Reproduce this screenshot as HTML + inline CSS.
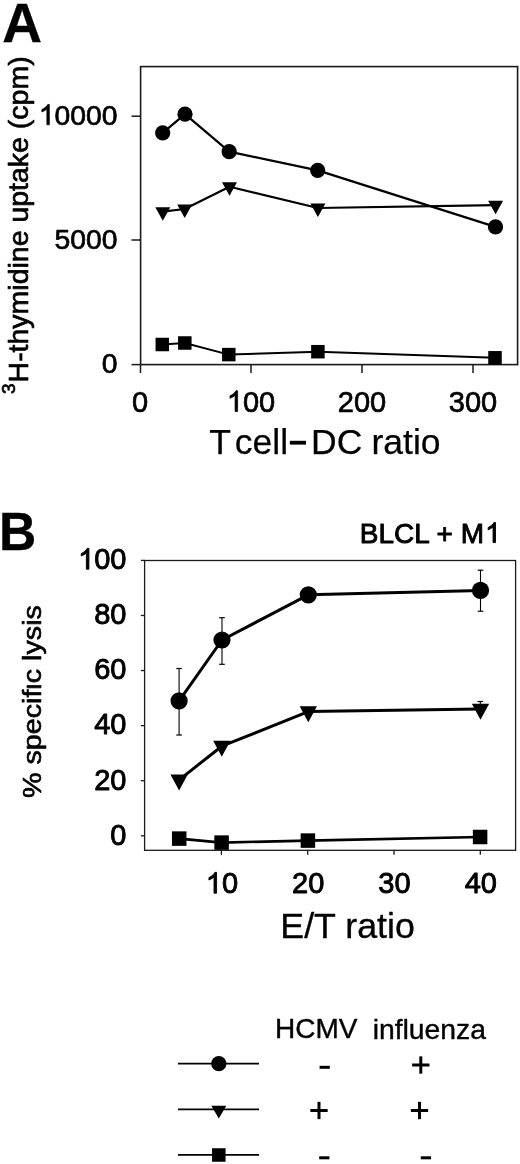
<!DOCTYPE html>
<html><head><meta charset="utf-8"><title>Figure</title>
<style>
html,body{margin:0;padding:0;background:#fff;}
body{width:520px;height:1164px;overflow:hidden;}
svg{display:block;font-family:"Liberation Sans", sans-serif;will-change:transform;}
</style></head>
<body>
<svg width="520" height="1164" viewBox="0 0 520 1164" fill="#000">
<text x="2.3" y="41.5" font-size="55" text-anchor="start" font-weight="bold" stroke="#000" stroke-width="0.4" stroke-linejoin="round" >A</text>
<rect x="140.6" y="66.6" width="377" height="298" fill="none" stroke="#1a1a1a" stroke-width="1.6"/>
<line x1="131.5" y1="116.2" x2="140.5" y2="116.2" stroke="#1a1a1a" stroke-width="1.5"/>
<line x1="131.5" y1="240" x2="140.5" y2="240" stroke="#1a1a1a" stroke-width="1.5"/>
<line x1="131.5" y1="364.6" x2="140.5" y2="364.6" stroke="#1a1a1a" stroke-width="1.5"/>
<line x1="140.5" y1="364.5" x2="140.5" y2="373" stroke="#1a1a1a" stroke-width="1.5"/>
<line x1="251" y1="364.5" x2="251" y2="373" stroke="#1a1a1a" stroke-width="1.5"/>
<line x1="362" y1="364.5" x2="362" y2="373" stroke="#1a1a1a" stroke-width="1.5"/>
<line x1="473" y1="364.5" x2="473" y2="373" stroke="#1a1a1a" stroke-width="1.5"/>
<text x="38.80" y="124.8" font-size="28.3" stroke="#000" stroke-width="0.7" stroke-linejoin="round"> 0000</text>
<path transform="translate(38.80,124.8) scale(0.01382,-0.01382)" d="M763 0L583 0L583 1147Q518 1085 412.5 1023Q307 961 223 930L223 1104Q374 1175 487 1276Q600 1377 647 1472L763 1472Z" stroke="#000" stroke-width="50.657243816254415" stroke-linejoin="round"/>
<text x="54.54" y="248.8" font-size="28.3" stroke="#000" stroke-width="0.7" stroke-linejoin="round">5000</text>
<text x="101.76" y="372.8" font-size="28.3" stroke="#000" stroke-width="0.7" stroke-linejoin="round">0</text>
<text x="131.94" y="411.5" font-size="29" stroke="#000" stroke-width="0.7" stroke-linejoin="round">0</text>
<text x="226.81" y="411.5" font-size="29" stroke="#000" stroke-width="0.7" stroke-linejoin="round"> 00</text>
<path transform="translate(226.81,411.5) scale(0.01416,-0.01416)" d="M763 0L583 0L583 1147Q518 1085 412.5 1023Q307 961 223 930L223 1104Q374 1175 487 1276Q600 1377 647 1472L763 1472Z" stroke="#000" stroke-width="49.43448275862069" stroke-linejoin="round"/>
<text x="337.81" y="411.5" font-size="29" stroke="#000" stroke-width="0.7" stroke-linejoin="round">200</text>
<text x="448.81" y="411.5" font-size="29" stroke="#000" stroke-width="0.7" stroke-linejoin="round">300</text>
<text x="209.3" y="454" font-size="35.5" text-anchor="start" font-weight="normal" stroke="#000" stroke-width="0.25" stroke-linejoin="round" >T</text>
<text x="234.8" y="454" font-size="35.5" text-anchor="start" font-weight="normal" stroke="#000" stroke-width="0.25" stroke-linejoin="round" >cell</text>
<rect x="289.8" y="440.8" width="16.2" height="3.8"/>
<text x="311" y="454" font-size="35.5" text-anchor="start" font-weight="normal" stroke="#000" stroke-width="0.25" stroke-linejoin="round" >DC</text>
<text x="371.5" y="454" font-size="35.5" text-anchor="start" font-weight="normal" stroke="#000" stroke-width="0.25" stroke-linejoin="round" >ratio</text>
<text transform="translate(27.9,394) rotate(-90) scale(1,0.94)" font-size="28.5" stroke="#000" stroke-width="0.7" stroke-linejoin="round"><tspan font-size="19" dy="-14">3</tspan><tspan dy="14" dx="1">H-thymidine uptake (cpm)</tspan></text>
<polyline points="162.70,132.90 185.00,114.20 229.20,151.70 317.70,170.40 495.50,226.90" fill="none" stroke="#000" stroke-width="2.2" stroke-linejoin="round"/>
<polyline points="162.80,211.70 184.70,209.00 229.50,186.70 317.90,208.00 495.60,205.20" fill="none" stroke="#000" stroke-width="2.2" stroke-linejoin="round"/>
<polyline points="162.30,344.50 184.80,343.00 228.80,354.60 317.90,351.70 495.00,357.80" fill="none" stroke="#000" stroke-width="2.0" stroke-linejoin="round"/>
<circle cx="162.7" cy="132.9" r="7.6"/>
<circle cx="185" cy="114.2" r="7.6"/>
<circle cx="229.2" cy="151.7" r="7.6"/>
<circle cx="317.7" cy="170.4" r="7.6"/>
<circle cx="495.5" cy="226.9" r="7.6"/>
<polygon points="155.30,207.20 170.30,207.20 162.80,220.70"/>
<polygon points="177.20,204.50 192.20,204.50 184.70,218.00"/>
<polygon points="222.00,182.20 237.00,182.20 229.50,195.70"/>
<polygon points="310.40,203.50 325.40,203.50 317.90,217.00"/>
<polygon points="488.10,200.70 503.10,200.70 495.60,214.20"/>
<rect x="155.55" y="337.75" width="13.5" height="13.5"/>
<rect x="178.05" y="336.25" width="13.5" height="13.5"/>
<rect x="222.05" y="347.85" width="13.5" height="13.5"/>
<rect x="311.15" y="344.95" width="13.5" height="13.5"/>
<rect x="488.25" y="351.05" width="13.5" height="13.5"/>
<text transform="translate(-1.0,550.0) scale(0.955,1)" font-size="54" font-weight="bold" stroke="#000" stroke-width="0.4" stroke-linejoin="round">B</text>
<text x="359.8" y="542.6" font-size="28" text-anchor="start" font-weight="normal" stroke="#000" stroke-width="0.9" stroke-linejoin="round" >BLCL + M</text>
<text x="485.08" y="542.6" font-size="28" stroke="#000" stroke-width="0.9" stroke-linejoin="round"> </text>
<path transform="translate(485.08,542.6) scale(0.01367,-0.01367)" d="M763 0L583 0L583 1147Q518 1085 412.5 1023Q307 961 223 930L223 1104Q374 1175 487 1276Q600 1377 647 1472L763 1472Z" stroke="#000" stroke-width="65.82857142857144" stroke-linejoin="round"/>
<rect x="144.6" y="560.5" width="371" height="289.8" fill="none" stroke="#1a1a1a" stroke-width="1.3"/>
<line x1="140.8" y1="835.8" x2="144.6" y2="835.8" stroke="#1a1a1a" stroke-width="1.3"/>
<text x="110.37" y="844.5999999999999" font-size="29" stroke="#000" stroke-width="0.9" stroke-linejoin="round">0</text>
<line x1="140.8" y1="780.7199999999999" x2="144.6" y2="780.7199999999999" stroke="#1a1a1a" stroke-width="1.3"/>
<text x="94.24" y="789.5199999999999" font-size="29" stroke="#000" stroke-width="0.9" stroke-linejoin="round">20</text>
<line x1="140.8" y1="725.64" x2="144.6" y2="725.64" stroke="#1a1a1a" stroke-width="1.3"/>
<text x="94.24" y="734.4399999999999" font-size="29" stroke="#000" stroke-width="0.9" stroke-linejoin="round">40</text>
<line x1="140.8" y1="670.56" x2="144.6" y2="670.56" stroke="#1a1a1a" stroke-width="1.3"/>
<text x="94.24" y="679.3599999999999" font-size="29" stroke="#000" stroke-width="0.9" stroke-linejoin="round">60</text>
<line x1="140.8" y1="615.48" x2="144.6" y2="615.48" stroke="#1a1a1a" stroke-width="1.3"/>
<text x="94.24" y="624.28" font-size="29" stroke="#000" stroke-width="0.9" stroke-linejoin="round">80</text>
<line x1="140.8" y1="560.4" x2="144.6" y2="560.4" stroke="#1a1a1a" stroke-width="1.3"/>
<text x="78.11" y="569.1999999999999" font-size="29" stroke="#000" stroke-width="0.9" stroke-linejoin="round"> 00</text>
<path transform="translate(78.11,569.1999999999999) scale(0.01416,-0.01416)" d="M763 0L583 0L583 1147Q518 1085 412.5 1023Q307 961 223 930L223 1104Q374 1175 487 1276Q600 1377 647 1472L763 1472Z" stroke="#000" stroke-width="63.55862068965517" stroke-linejoin="round"/>
<line x1="221.4" y1="850.3" x2="221.4" y2="854.8" stroke="#1a1a1a" stroke-width="1.3"/>
<text x="205.77" y="893.2" font-size="29" stroke="#000" stroke-width="0.9" stroke-linejoin="round"> 0</text>
<path transform="translate(205.77,893.2) scale(0.01416,-0.01416)" d="M763 0L583 0L583 1147Q518 1085 412.5 1023Q307 961 223 930L223 1104Q374 1175 487 1276Q600 1377 647 1472L763 1472Z" stroke="#000" stroke-width="63.55862068965517" stroke-linejoin="round"/>
<line x1="307.7" y1="850.3" x2="307.7" y2="854.8" stroke="#1a1a1a" stroke-width="1.3"/>
<text x="292.07" y="893.2" font-size="29" stroke="#000" stroke-width="0.9" stroke-linejoin="round">20</text>
<line x1="394" y1="850.3" x2="394" y2="854.8" stroke="#1a1a1a" stroke-width="1.3"/>
<text x="378.37" y="893.2" font-size="29" stroke="#000" stroke-width="0.9" stroke-linejoin="round">30</text>
<line x1="480.3" y1="850.3" x2="480.3" y2="854.8" stroke="#1a1a1a" stroke-width="1.3"/>
<text x="464.67" y="893.2" font-size="29" stroke="#000" stroke-width="0.9" stroke-linejoin="round">40</text>
<text x="280.3" y="938" font-size="35.8" text-anchor="start" font-weight="normal" stroke="#000" stroke-width="0.35" stroke-linejoin="round" >E/T ratio</text>
<text transform="translate(40.8,798) rotate(-90) scale(1,0.88)" font-size="28.7" stroke="#000" stroke-width="0.7" stroke-linejoin="round">% specif<tspan dx="-0.8">&#x131;</tspan><tspan dx="-0.8">c lysis</tspan></text>
<line x1="179.1" y1="668.5" x2="179.1" y2="735" stroke="#000" stroke-width="1.1"/>
<line x1="176.29999999999998" y1="668.5" x2="181.9" y2="668.5" stroke="#000" stroke-width="1.2"/>
<line x1="176.29999999999998" y1="735" x2="181.9" y2="735" stroke="#000" stroke-width="1.2"/>
<line x1="222" y1="617.7" x2="222" y2="664.3" stroke="#000" stroke-width="1.1"/>
<line x1="219.2" y1="617.7" x2="224.8" y2="617.7" stroke="#000" stroke-width="1.2"/>
<line x1="219.2" y1="664.3" x2="224.8" y2="664.3" stroke="#000" stroke-width="1.2"/>
<line x1="480.5" y1="570.2" x2="480.5" y2="611.2" stroke="#000" stroke-width="1.1"/>
<line x1="477.7" y1="570.2" x2="483.3" y2="570.2" stroke="#000" stroke-width="1.2"/>
<line x1="477.7" y1="611.2" x2="483.3" y2="611.2" stroke="#000" stroke-width="1.2"/>
<line x1="480.3" y1="701.5" x2="480.3" y2="706" stroke="#000" stroke-width="1.1"/>
<line x1="477.5" y1="701.5" x2="483.1" y2="701.5" stroke="#000" stroke-width="1.2"/>
<line x1="477.5" y1="706" x2="483.1" y2="706" stroke="#000" stroke-width="1.2"/>
<polyline points="179.10,700.90 222.00,640.00 308.30,594.80 480.50,590.40" fill="none" stroke="#000" stroke-width="3.0" stroke-linejoin="round"/>
<polyline points="179.10,779.90 221.80,746.20 308.30,711.60 480.50,709.00" fill="none" stroke="#000" stroke-width="3.0" stroke-linejoin="round"/>
<polyline points="179.20,838.60 221.60,842.60 307.90,840.60 480.10,837.00" fill="none" stroke="#000" stroke-width="2.6" stroke-linejoin="round"/>
<circle cx="179.1" cy="700.9" r="8.6"/>
<circle cx="222" cy="640" r="8.6"/>
<circle cx="308.3" cy="594.8" r="8.6"/>
<circle cx="480.5" cy="590.4" r="8.6"/>
<polygon points="170.45,774.57 187.75,774.57 179.10,790.57"/>
<polygon points="213.15,740.87 230.45,740.87 221.80,756.87"/>
<polygon points="299.65,706.27 316.95,706.27 308.30,722.27"/>
<polygon points="471.85,703.67 489.15,703.67 480.50,719.67"/>
<rect x="171.95" y="831.35" width="14.5" height="14.5"/>
<rect x="214.35" y="835.35" width="14.5" height="14.5"/>
<rect x="300.65" y="833.35" width="14.5" height="14.5"/>
<rect x="472.85" y="829.75" width="14.5" height="14.5"/>
<text x="275" y="1038" font-size="28" text-anchor="start" font-weight="normal" stroke="#000" stroke-width="0.4" stroke-linejoin="round" >HCMV</text>
<text x="372.7" y="1038.7" font-size="28.3" text-anchor="start" font-weight="normal" stroke="#000" stroke-width="0.4" stroke-linejoin="round" >in&#xFB02;uenza</text>
<line x1="178" y1="1063.6" x2="259" y2="1063.6" stroke="#000" stroke-width="1.8"/>
<line x1="178" y1="1109.3" x2="259" y2="1109.3" stroke="#000" stroke-width="1.8"/>
<line x1="178" y1="1154.8" x2="259" y2="1154.8" stroke="#000" stroke-width="1.8"/>
<circle cx="218.8" cy="1063.7" r="7.6"/>
<polygon points="211.3,1105.8 226.3,1105.8 218.8,1118.5"/>
<rect x="212.05" y="1148.25" width="13.5" height="13.5"/>
<rect x="319.60" y="1065.80" width="10.2" height="3"/>
<rect x="412.15" y="1063.50" width="17.3" height="3"/>
<rect x="419.30" y="1056.35" width="3" height="17.3"/>
<rect x="310.35" y="1109.00" width="17.3" height="3"/>
<rect x="317.50" y="1101.85" width="3" height="17.3"/>
<rect x="410.85" y="1109.00" width="17.3" height="3"/>
<rect x="418.00" y="1101.85" width="3" height="17.3"/>
<rect x="319.20" y="1156.30" width="10.2" height="3"/>
<rect x="420.80" y="1156.30" width="10.2" height="3"/>
</svg>
</body></html>
